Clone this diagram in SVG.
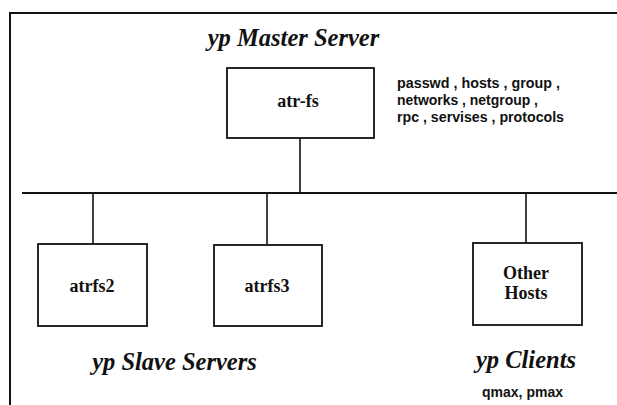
<svg xmlns="http://www.w3.org/2000/svg" width="617" height="405" viewBox="0 0 617 405">
  <style>
    .frame { fill: none; stroke: #111; stroke-width: 2; }
    .box { fill: #fff; stroke: #111; stroke-width: 1.8; }
    .wire { fill: none; stroke: #111; stroke-width: 1.6; }
    .bus { fill: none; stroke: #111; stroke-width: 2.2; }
    .host { font-family: "Liberation Serif", "Times New Roman", serif; font-size: 18px; font-weight: bold; fill: #111; text-anchor: middle; }
    .title { font-family: "Liberation Serif", "Times New Roman", serif; font-size: 24.5px; font-weight: bold; font-style: italic; fill: #111; text-anchor: middle; }
    .maps { font-family: "Liberation Sans", Arial, sans-serif; font-size: 15px; font-weight: bold; fill: #111; }
  </style>
  <rect width="617" height="405" fill="#fff"/>

  <!-- outer frame (open at right and bottom) -->
  <path class="frame" d="M10,405 V13 H617"/>

  <!-- network bus and drops -->
  <g id="connectors">
    <line class="bus" x1="22" y1="193" x2="617" y2="193"/>
    <line class="wire" x1="300" y1="138" x2="300" y2="193"/>
    <line class="wire" x1="93" y1="193" x2="93" y2="244"/>
    <line class="wire" x1="267" y1="193" x2="267" y2="245"/>
    <line class="wire" x1="526" y1="193" x2="526" y2="243"/>
  </g>

  <g id="master">
    <text class="title" x="293.5" y="46">yp Master Server</text>
    <rect class="box" x="227" y="68" width="147" height="70"/>
    <text class="host" x="298" y="107">atr-fs</text>
    <text class="maps" x="397" y="88" textLength="163" lengthAdjust="spacingAndGlyphs">passwd , hosts , group ,</text>
    <text class="maps" x="397" y="105" textLength="141" lengthAdjust="spacingAndGlyphs">networks , netgroup ,</text>
    <text class="maps" x="397" y="122" textLength="167" lengthAdjust="spacingAndGlyphs">rpc , servises , protocols</text>
  </g>

  <g id="atrfs2">
    <rect class="box" x="38" y="244" width="109" height="82"/>
    <text class="host" x="92" y="292">atrfs2</text>
  </g>

  <g id="atrfs3">
    <rect class="box" x="214" y="245" width="108" height="81"/>
    <text class="host" x="267" y="292">atrfs3</text>
  </g>

  <g id="other-hosts">
    <rect class="box" x="473" y="243" width="109" height="82"/>
    <text class="host" x="526" y="279">Other</text>
    <text class="host" x="526" y="299">Hosts</text>
  </g>

  <g id="slave-label">
    <text class="title" x="174.5" y="370">yp Slave Servers</text>
  </g>

  <g id="client-label">
    <text class="title" x="526" y="368">yp Clients</text>
    <text class="maps" x="522.5" y="397" text-anchor="middle" style="font-size:14px">qmax, pmax</text>
  </g>
</svg>
